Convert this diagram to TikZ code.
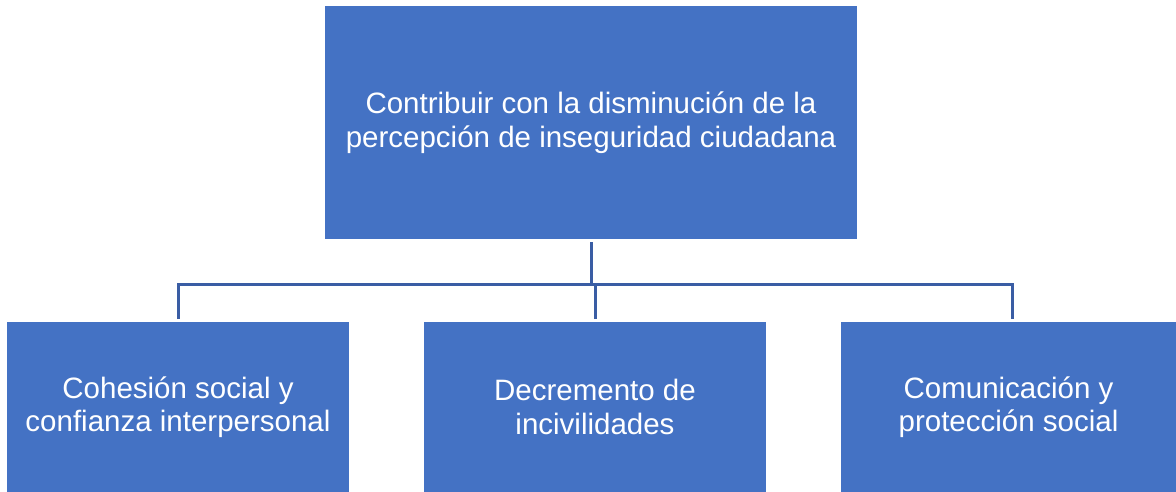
\documentclass[tikz,border=0pt]{standalone}
\usepackage{fontspec}
\setmainfont{Liberation Sans}
\definecolor{boxblue}{HTML}{4472C4}
\definecolor{linkblue}{HTML}{3A5DA4}
\tikzset{
  orgbox/.style={fill=boxblue, draw=none, inner sep=0pt, text=white, align=center,
    font=\fontsize{29.5}{33.5}\selectfont},
  link/.style={draw=linkblue, line width=3pt}
}
\begin{document}
\begin{tikzpicture}[x=1pt,y=-1pt]
\useasboundingbox (0,0) rectangle (1176,492);
\node[orgbox, minimum width=532pt, minimum height=233pt] (top) at (591,122.5)
  {Contribuir con la disminución de la\\percepción de inseguridad ciudadana};
\node[orgbox, minimum width=342pt, minimum height=170pt] (a) at (178,407)
  {Cohesión social y\\confianza interpersonal};
\node[orgbox, minimum width=342pt, minimum height=170pt] (b) at (595,407)
  {Decremento de\\incivilidades};
\node[orgbox, minimum width=335pt, minimum height=170pt] (c) at (1008.5,407)
  {Comunicación y\\protección social};
\coordinate (t1) at (591,242);
\coordinate (h) at (591,284.5);
\coordinate (la) at (178,319);
\coordinate (lb) at (595,319);
\coordinate (lc) at (1012,319);
\draw[link] (t1) -- (h);
\draw[link] (la) -- (la |- h) -- (lc |- h) -- (lc);
\draw[link] (lb) -- (lb |- h);
\end{tikzpicture}
\end{document}
